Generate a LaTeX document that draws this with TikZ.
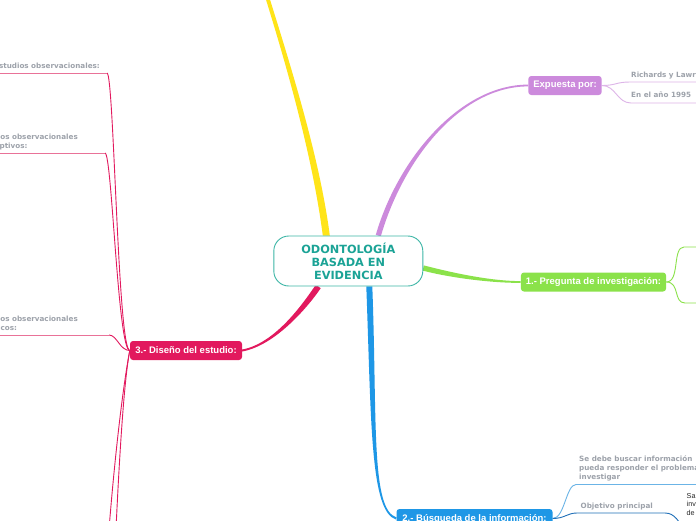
\documentclass[tikz,border=0pt]{standalone}
\usepackage{fontspec}
\setmainfont{Liberation Sans}
\newfontfamily\dvs{DejaVu Sans}
\usetikzlibrary{calc}
\pgfdeclarelayer{bg}
\pgfsetlayers{bg,main}
\definecolor{tealt}{HTML}{1BA396}
\definecolor{tealb}{HTML}{3DB6A6}
\definecolor{ylw}{HTML}{FFE419}
\definecolor{pur}{HTML}{CC8ADC}
\definecolor{purl}{HTML}{DDB5E8}
\definecolor{grn}{HTML}{8BE24A}
\definecolor{blu}{HTML}{1E97E6}
\definecolor{blul}{HTML}{6BB4E6}
\definecolor{blud}{HTML}{1F6FB8}
\definecolor{pnk}{HTML}{E2195E}
\definecolor{pnkl}{HTML}{E97298}
\definecolor{gtxt}{HTML}{9DA2AA}
\tikzset{
  topic/.style={rounded corners=3pt, fill=#1, text=white, font=\fontsize{9.5}{11}\selectfont\bfseries,
    minimum height=19pt, inner xsep=5pt, inner ysep=0pt},
  lbl/.style={text=gtxt, font=\dvs\fontsize{7.2}{9}\selectfont\bfseries, inner sep=0pt, align=left},
  sub/.style={line width=0.9pt},
}
\newcommand\taper[7]{\fill[#1] ($(#2)+#6$) .. controls +#4 and +#5 .. ($(#3)+#7$) -- ($(#3)-#7$) .. controls +#5 and +#4 .. ($(#2)-#6$) -- cycle;}
\begin{document}
\begin{tikzpicture}[x=1pt,y=-1pt]
\useasboundingbox (0,0) rectangle (696,520);
\clip (0,0) rectangle (696,520);
% central topic
\node[draw=tealb, line width=0.9pt, fill=white, rounded corners=15pt, minimum width=149pt, minimum height=50pt,
  text=tealt, font=\dvs\fontsize{11.3}{13}\selectfont\bfseries, align=center, inner sep=0pt] (c) at (348.3,261) {ODONTOLOGÍA\\BASADA EN\\EVIDENCIA};
% main topics
\node[topic=pur, minimum width=73pt] (ep) at (565,85.5) {Expuesta por:};
\node[topic=grn, minimum width=145pt] (pq) at (593.5,282) {1.- Pregunta de investigación:};
\node[topic=pnk, minimum width=112pt] (de) at (186,350.5) {3.- Diseño del estudio:};
\node[topic=blu, minimum width=156pt] (bi) at (474.5,518.5) {2.- Búsqueda de la información:};
% attach points and free ends
\coordinate (ytop) at (265,-10);
\coordinate (cY) at ($(c.north)+(-22,0)$);
\coordinate (cP) at ($(c.north)+(30,0)$);
\coordinate (cG) at ($(c.east)+(0,7)$);
\coordinate (cB) at ($(c.south)+(21,0)$);
\coordinate (cK) at ($(c.south)+(-30,0)$);
\coordinate (r1u) at (630,82);
\coordinate (r2u) at (631,103);
\coordinate (g1u) at (684,247);
\coordinate (g2u) at (685,303);
\coordinate (b1u) at (576,484.5);
\coordinate (b2u) at (577,513);
\coordinate (b2e) at (665,513);
\coordinate (b3u) at (684,530);
\coordinate (l1u) at (107,73);
\coordinate (l2u) at (105,153);
\coordinate (l3u) at (109,335);
\coordinate (pd1) at (104,600);
\coordinate (pd2) at (113,600);
% labels
\node[lbl, anchor=base west] (r1) at ($(r1u)+(1,-4.5)$) {Richards y Lawrence};
\node[lbl, anchor=base west] (r2) at ($(r2u)+(0,-5.5)$) {En el año 1995};
\node[lbl, anchor=south west] (b1) at ($(b1u)+(3,-3)$) {Se debe buscar información\\pueda responder el problema\\investigar};
\node[lbl, anchor=base west] (b2) at ($(b2u)+(3.5,-4.5)$) {Objetivo principal};
\node[font=\fontsize{7.2}{8.5}\selectfont, text=black!85, align=left, inner sep=0pt, anchor=south west] (b3) at (686.5,515.5) {Sa\\inv\\de};
\node[lbl, anchor=base east] (l1) at ($(l1u)+(-7,-4.5)$) {Estudios observacionales:};
\node[lbl, anchor=south east] (l2) at ($(l2u)+(-27,-2.8)$) {Estudios observacionales\\descriptivos:};
\node[lbl, anchor=south east] (l3) at ($(l3u)+(-31,-4.5)$) {Estudios observacionales\\analíticos:};
\begin{pgfonlayer}{bg}
\clip (0,0) rectangle (696,520);
\fill[white] (0,0) rectangle (696,520);
% main branches (tapered)
\taper{ylw}{cY}{ytop}{(-10,-77)}{(25,80)}{(3.5,0)}{(2,0)}
\taper{pur}{cP}{ep.west}{(22,-76)}{(-68,0)}{(2.5,0.7)}{(0,0.9)}
\taper{grn}{cG}{pq.west}{(27,7)}{(-31,0)}{(-0.6,2.6)}{(0,0.9)}
\taper{blu}{cB}{bi.west}{(5,134)}{(-26,-8)}{(-3,0)}{(-0.3,1)}
\taper{pnk}{cK}{de.east}{(-13,19)}{(33,-6)}{(-2.4,-1.8)}{(0,-1)}
% purple sub-branches
\draw[sub, purl] (ep.east) .. controls +(14,0) and +(-14,0) .. (r1u) -- ++(80,0);
\draw[sub, purl] (ep.east) .. controls +(14,0) and +(-14,0) .. (r2u) -- ++(80,0);
% green sub-branches
\draw[sub, grn] (pq.east) .. controls +(14,0) and +(-12,0) .. (g1u) -- ++(30,0);
\draw[sub, grn] (pq.east) .. controls +(14,0) and +(-12,0) .. (g2u) -- ++(30,0);
% blue sub-branches
\draw[sub, blul] (bi.east) .. controls +(12,0) and +(-10,0) .. (b1u) -- ++(130,0);
\draw[sub, blud] (bi.east) .. controls +(12,0) and +(-10,0) .. (b2u) -- (b2e) .. controls +(10,0) and +(-5,-8) .. (b3u);
% pink sub-branches
\draw[sub, pnk] (de.west) .. controls +(-12,0) and +(7,0) .. (l1u);
\draw[sub, pnkl] (l1u) -- ++(-130,0);
\draw[sub, pnk] (de.west) .. controls +(-12,0) and +(7,0) .. (l2u);
\draw[sub, pnkl] (l2u) -- ++(-130,0);
\draw[sub, pnk] (de.west) .. controls +(-10,0) and +(8,0) .. (l3u);
\draw[sub, pnkl] (l3u) -- ++(-130,0);
\draw[sub, pnk] (de.west) .. controls +(-6,30) and +(8,-130) .. (pd1);
\draw[sub, pnk] (de.west) .. controls +(-6,30) and +(5,-130) .. (pd2);
\end{pgfonlayer}
\end{tikzpicture}
\end{document}
